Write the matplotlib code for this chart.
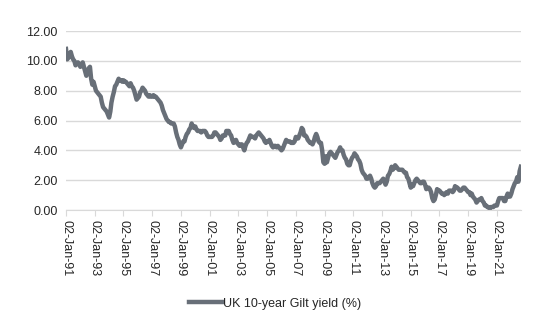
import matplotlib
matplotlib.use("Agg")
import matplotlib.pyplot as plt
import pandas as pd

# Monthly UK 10-year gilt yield (%), Jan 1991 - Aug 2022
y1991 = [10.8, 10.1, 10.2, 10.4, 10.6, 10.3, 10.1, 10.0, 9.7, 9.8, 9.9, 9.8]
y1992 = [9.6, 9.7, 9.9, 9.6, 9.3, 9.0, 9.2, 9.5, 9.6, 8.8, 8.4, 8.6]
y1993 = [8.3, 8.0, 7.9, 7.8, 7.7, 7.6, 7.2, 6.9, 6.8, 6.7, 6.6, 6.4]
y1994 = [6.2, 6.6, 7.2, 7.6, 7.9, 8.3, 8.4, 8.6, 8.8, 8.7, 8.7, 8.6]
y1995 = [8.7, 8.6, 8.6, 8.5, 8.4, 8.3, 8.5, 8.3, 8.2, 8.0, 7.7, 7.4]
y1996 = [7.5, 7.6, 7.9, 8.0, 8.2, 8.1, 8.0, 7.8, 7.7, 7.6, 7.7, 7.6]
y1997 = [7.6, 7.7, 7.6, 7.6, 7.5, 7.4, 7.3, 7.2, 7.0, 6.7, 6.5, 6.3]
y1998 = [6.1, 6.0, 5.9, 5.9, 5.8, 5.8, 5.8, 5.6, 5.2, 4.9, 4.7, 4.4]
y1999 = [4.2, 4.4, 4.6, 4.6, 4.9, 5.1, 5.2, 5.4, 5.5, 5.8, 5.6, 5.5]
y2000 = [5.6, 5.4, 5.3, 5.3, 5.3, 5.2, 5.3, 5.3, 5.3, 5.2, 5.0, 4.9]
y2001 = [4.9, 4.9, 4.9, 5.0, 5.2, 5.2, 5.1, 5.0, 4.9, 4.7, 4.8, 5.0]
y2002 = [5.0, 5.0, 5.3, 5.3, 5.3, 5.1, 5.0, 4.7, 4.5, 4.6, 4.7, 4.5]
y2003 = [4.4, 4.3, 4.4, 4.4, 4.2, 4.0, 4.3, 4.5, 4.6, 4.8, 5.0, 4.9]
y2004 = [4.9, 4.9, 4.8, 5.0, 5.1, 5.2, 5.1, 5.0, 4.9, 4.8, 4.6, 4.5]
y2005 = [4.6, 4.6, 4.7, 4.5, 4.3, 4.2, 4.3, 4.3, 4.2, 4.3, 4.2, 4.1]
y2006 = [4.0, 4.1, 4.3, 4.5, 4.7, 4.6, 4.6, 4.6, 4.5, 4.5, 4.5, 4.6]
y2007 = [4.9, 4.8, 4.8, 5.0, 5.2, 5.5, 5.4, 5.0, 5.0, 4.9, 4.7, 4.6]
y2008 = [4.5, 4.5, 4.4, 4.6, 4.9, 5.1, 4.9, 4.6, 4.5, 4.5, 4.0, 3.2]
y2009 = [3.1, 3.6, 3.2, 3.5, 3.8, 3.9, 3.8, 3.7, 3.6, 3.5, 3.7, 3.9]
y2010 = [4.0, 4.2, 4.0, 4.0, 3.7, 3.5, 3.4, 3.1, 3.0, 3.0, 3.3, 3.5]
y2011 = [3.6, 3.8, 3.7, 3.6, 3.4, 3.3, 3.1, 2.7, 2.5, 2.4, 2.3, 2.1]
y2012 = [2.1, 2.2, 2.3, 2.1, 1.8, 1.6, 1.5, 1.6, 1.8, 1.8, 1.8, 1.9]
y2013 = [2.0, 2.1, 1.9, 1.7, 1.9, 2.3, 2.4, 2.6, 2.9, 2.7, 2.8, 3.0]
y2014 = [2.9, 2.8, 2.7, 2.7, 2.7, 2.7, 2.6, 2.5, 2.5, 2.2, 2.1, 1.8]
y2015 = [1.5, 1.7, 1.6, 1.8, 2.0, 2.1, 2.0, 1.9, 1.8, 1.8, 1.9, 1.9]
y2016 = [1.7, 1.4, 1.5, 1.5, 1.4, 1.2, 0.8, 0.6, 0.7, 1.0, 1.4, 1.3]
y2017 = [1.3, 1.2, 1.1, 1.1, 1.0, 1.1, 1.2, 1.1, 1.3, 1.3, 1.3, 1.2]
y2018 = [1.3, 1.6, 1.5, 1.5, 1.4, 1.3, 1.3, 1.4, 1.5, 1.5, 1.4, 1.3]
y2019 = [1.2, 1.2, 1.0, 1.1, 0.9, 0.8, 0.7, 0.5, 0.6, 0.7, 0.7, 0.8]
y2020 = [0.6, 0.5, 0.3, 0.3, 0.2, 0.2, 0.1, 0.2, 0.2, 0.2, 0.3, 0.3]
y2021 = [0.3, 0.6, 0.8, 0.8, 0.8, 0.8, 0.6, 0.6, 0.9, 1.1, 0.9, 0.9]
y2022 = [1.1, 1.4, 1.6, 1.8, 1.9, 2.2, 1.9, 2.6, 2.9]

yields = (y1991 + y1992 + y1993 + y1994 + y1995 + y1996 + y1997 + y1998 +
          y1999 + y2000 + y2001 + y2002 + y2003 + y2004 + y2005 + y2006 +
          y2007 + y2008 + y2009 + y2010 + y2011 + y2012 + y2013 + y2014 +
          y2015 + y2016 + y2017 + y2018 + y2019 + y2020 + y2021 + y2022)

series_name = "UK 10-year Gilt yield (%)"
tick_years = list(range(1991, 2022, 2))
y_ticks = [0, 2, 4, 6, 8, 10, 12]

dates = pd.date_range("1991-01-01", periods=len(yields), freq="MS") + pd.Timedelta(days=1)

plt.rcParams["font.family"] = ["Liberation Sans", "DejaVu Sans"]

fig = plt.figure(figsize=(5.5, 3.3), dpi=100)
ax = fig.add_axes([0.12, 0.3636, 0.827, 0.5424])

line_color = "#686f78"
ax.plot(dates, yields, color=line_color, lw=3.2, solid_joinstyle="round",
        label=series_name)

ax.set_ylim(0, 12)
ax.set_yticks(y_ticks)
ax.set_yticklabels([f"{v:.2f}" for v in y_ticks], fontsize=9, color="#262626")
ax.set_xlim(dates[0], dates[-1])
tick_dates = [pd.Timestamp(f"{y}-01-02") for y in tick_years]
ax.set_xticks(tick_dates)
ax.set_xticklabels([d.strftime("%d-%b-%y") for d in tick_dates],
                   rotation=-90, fontsize=9, color="#262626")

ax.grid(axis="y", color="#d9d9d9", lw=1)
ax.set_axisbelow(True)
for s in ["top", "right", "left"]:
    ax.spines[s].set_visible(False)
ax.spines["bottom"].set_color("#d9d9d9")
ax.tick_params(axis="y", length=0, pad=6)
ax.tick_params(axis="x", length=4, color="#d9d9d9", pad=3)

leg = fig.legend(loc="center", bbox_to_anchor=(0.5, 0.08), frameon=False,
                 fontsize=9, handlelength=2.6, handletextpad=0.1)
for t in leg.get_texts():
    t.set_color("#262626")

fig.savefig("out.png", dpi=100)
